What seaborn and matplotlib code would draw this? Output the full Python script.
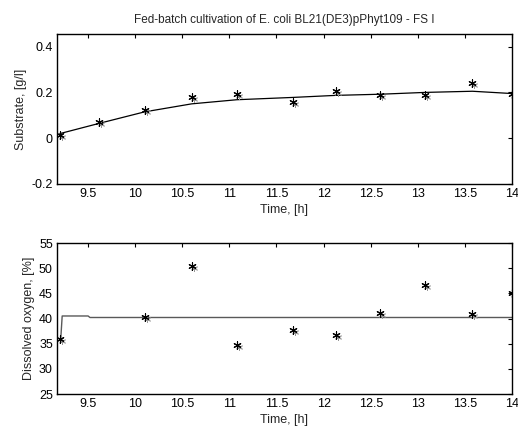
import numpy as np
import pandas as pd
import matplotlib
matplotlib.use("Agg")
import matplotlib.pyplot as plt
import matplotlib.transforms as mtransforms
import seaborn as sns

time_s = [9.2, 9.62, 10.1, 10.6, 11.08, 11.67, 12.13, 12.6, 13.08, 13.58, 14.0]
substrate_meas = [0.015, 0.07, 0.125, 0.18, 0.195, 0.16, 0.205, 0.19, 0.19, 0.24, 0.195]
substrate_model = [0.02, 0.065, 0.115, 0.15, 0.168, 0.178, 0.187, 0.192, 0.2, 0.205, 0.195]

time_do = [9.2, 10.1, 10.6, 11.08, 11.67, 12.13, 12.6, 13.08, 13.58, 14.0]
do_meas = [36.0, 40.2, 50.5, 34.8, 37.7, 36.8, 41.0, 46.7, 40.8, 45.1]
time_do_model = [9.2, 9.21, 9.225, 9.5, 9.52, 14.0]
do_model = [36.0, 36.0, 40.5, 40.5, 40.2, 40.2]

sns.set_style("white")
plt.rcParams['font.family'] = ['Liberation Sans', 'DejaVu Sans']
plt.rcParams['font.size'] = 9

fig = plt.figure(figsize=(5.18, 4.32), dpi=100)
ax1 = fig.add_axes([57 / 518, 1 - 184 / 432, 455 / 518, 150 / 432])
ax2 = fig.add_axes([57 / 518, 1 - 394 / 432, 455 / 518, 151 / 432])

ASTERISK = (6, 2, 0)


def star_points(ax, x, y):
    # asterisk with a faint shadow, like the MATLAB export
    shift = mtransforms.ScaledTranslation(2 / 100, -2 / 100, fig.dpi_scale_trans)
    ax.plot(x, y, ls='none', marker=ASTERISK, ms=5, mec='0.6', mew=0.6,
            transform=ax.transData + shift, zorder=3)
    sns.scatterplot(x=x, y=y, ax=ax, marker=ASTERISK, s=28, color='black',
                    linewidth=0.8, zorder=4)


def style_axes(ax):
    ax.set_xlim(9.17, 14.0)
    ax.set_xticks([9.5, 10, 10.5, 11, 11.5, 12, 12.5, 13, 13.5, 14])
    ax.set_xticklabels(['9.5', '10', '10.5', '11', '11.5', '12', '12.5', '13', '13.5', '14'])
    ax.tick_params(direction='in', top=True, right=True, length=3, width=0.8,
                   labelsize=9, pad=3, colors='black')
    for sp in ax.spines.values():
        sp.set_color('black')
        sp.set_linewidth(1.0)
    ax.set_xlabel('Time, [h]', labelpad=3)


# top panel: substrate
sns.lineplot(x=time_s, y=substrate_model, ax=ax1, color='black', lw=0.9)
star_points(ax1, time_s, substrate_meas)
style_axes(ax1)
ax1.set_ylim(-0.2, 0.455)
ax1.set_yticks([-0.2, 0, 0.2, 0.4])
ax1.set_yticklabels(['-0.2', '0', '0.2', '0.4'])
ax1.set_ylabel('Substrate, [g/l]', labelpad=3)
ax1.set_title('Fed-batch cultivation of E. coli BL21(DE3)pPhyt109 - FS I',
              fontsize=8.5, pad=8)

# bottom panel: dissolved oxygen
sns.lineplot(x=time_do_model, y=do_model, ax=ax2, color='0.35', lw=1.0,
             sort=False, estimator=None)
star_points(ax2, time_do, do_meas)
style_axes(ax2)
ax2.set_ylim(25, 55)
ax2.set_yticks([25, 30, 35, 40, 45, 50, 55])
ax2.set_ylabel('Dissolved oxygen, [%]', labelpad=3)

fig.savefig('out.png', dpi=100)
